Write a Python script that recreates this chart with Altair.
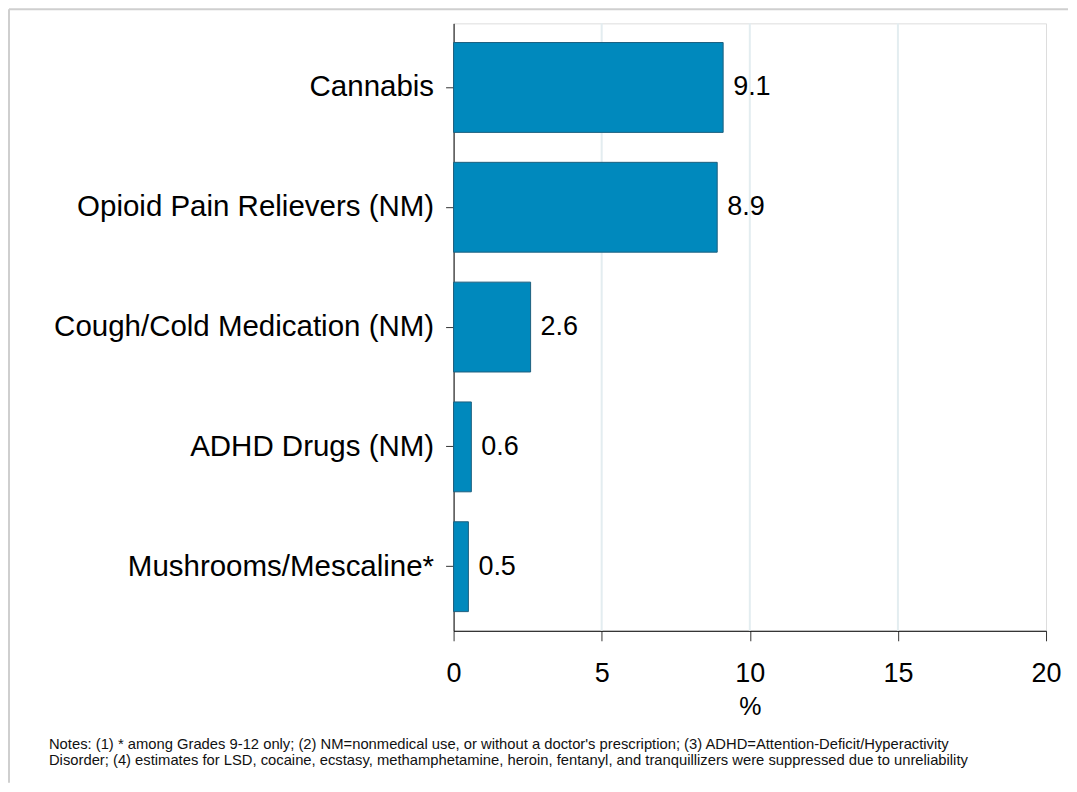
import altair as alt
import pandas as pd

categories = ["Cannabis", "Opioid Pain Relievers (NM)", "Cough/Cold Medication (NM)",
              "ADHD Drugs (NM)", "Mushrooms/Mescaline*"]
values = [9.1, 8.9, 2.6, 0.6, 0.5]
labels = ["9.1", "8.9", "2.6", "0.6", "0.5"]
grid_values = [5, 10, 15]
x_ticks = [0, 5, 10, 15, 20]
note_line1 = "Notes: (1) * among Grades 9-12 only; (2) NM=nonmedical use, or without a doctor's prescription; (3) ADHD=Attention-Deficit/Hyperactivity"
note_line2 = "Disorder; (4) estimates for LSD, cocaine, ecstasy, methamphetamine, heroin, fentanyl, and tranquillizers were suppressed due to unreliability"

FONT = "Liberation Sans"
W, H = 593, 608

df = pd.DataFrame({"cat": categories, "val": values, "lab": labels})
gdf = pd.DataFrame({"g": grid_values})
one = pd.DataFrame({"a": [0]})

xscale = alt.Scale(domain=[0, 20], nice=False)
yscale = alt.Scale(domain=categories, paddingInner=0.25, paddingOuter=0.16)
xaxis = alt.Axis(values=x_ticks, title="%", grid=False, labelFontSize=27,
                 titleFontSize=25, titleFontWeight="normal", tickSize=10,
                 labelPadding=20, titlePadding=8, domainColor="#000000",
                 tickColor="#333333", labelColor="#000000", titleColor="#000000",
                 labelFont=FONT, titleFont=FONT, labelFlush=False)
yaxis = alt.Axis(title=None, labelFontSize=29.5, tickSize=8, labelPadding=12,
                 domainColor="#000000", tickColor="#333333",
                 labelColor="#000000", labelFont=FONT, labelLimit=600)

grid = alt.Chart(gdf).mark_rule(color="#e3edf0", strokeWidth=2).encode(
    x=alt.X("g:Q", scale=xscale, axis=xaxis)
)

bars = alt.Chart(df).mark_bar(color="#0089bd", stroke="#1d5f7e", strokeWidth=1).encode(
    x=alt.X("val:Q", scale=xscale, axis=xaxis),
    y=alt.Y("cat:N", scale=yscale, sort=categories, axis=yaxis),
)

text = alt.Chart(df).mark_text(align="left", baseline="middle", dx=10, fontSize=27,
                               font=FONT, color="#000000").encode(
    x=alt.X("val:Q", scale=xscale, axis=xaxis),
    y=alt.Y("cat:N", scale=yscale, sort=categories, axis=yaxis),
    text="lab:N",
)

def note(line, ypix):
    return alt.Chart(one).mark_text(align="left", baseline="middle", fontSize=14.8,
                                    font=FONT, color="#111111", text=line).encode(
        x=alt.value(48 - 453), y=alt.value(ypix - 22)
    )

border_top = alt.Chart(one).mark_rule(color="#cfcfcf", strokeWidth=2).encode(
    x=alt.value(-445), x2=alt.value(1068 - 453), y=alt.value(-14)
)
border_left = alt.Chart(one).mark_rule(color="#cfcfcf", strokeWidth=2).encode(
    x=alt.value(-445), y=alt.value(-14), y2=alt.value(782 - 22)
)

chart = alt.layer(grid, bars, text, note(note_line1, 744), note(note_line2, 760),
                  border_top, border_left).properties(
    width=W, height=H, padding=0
).configure_view(strokeWidth=0).configure(background="white")

chart.save("out.html", embed_options={"renderer": "svg", "actions": False})
